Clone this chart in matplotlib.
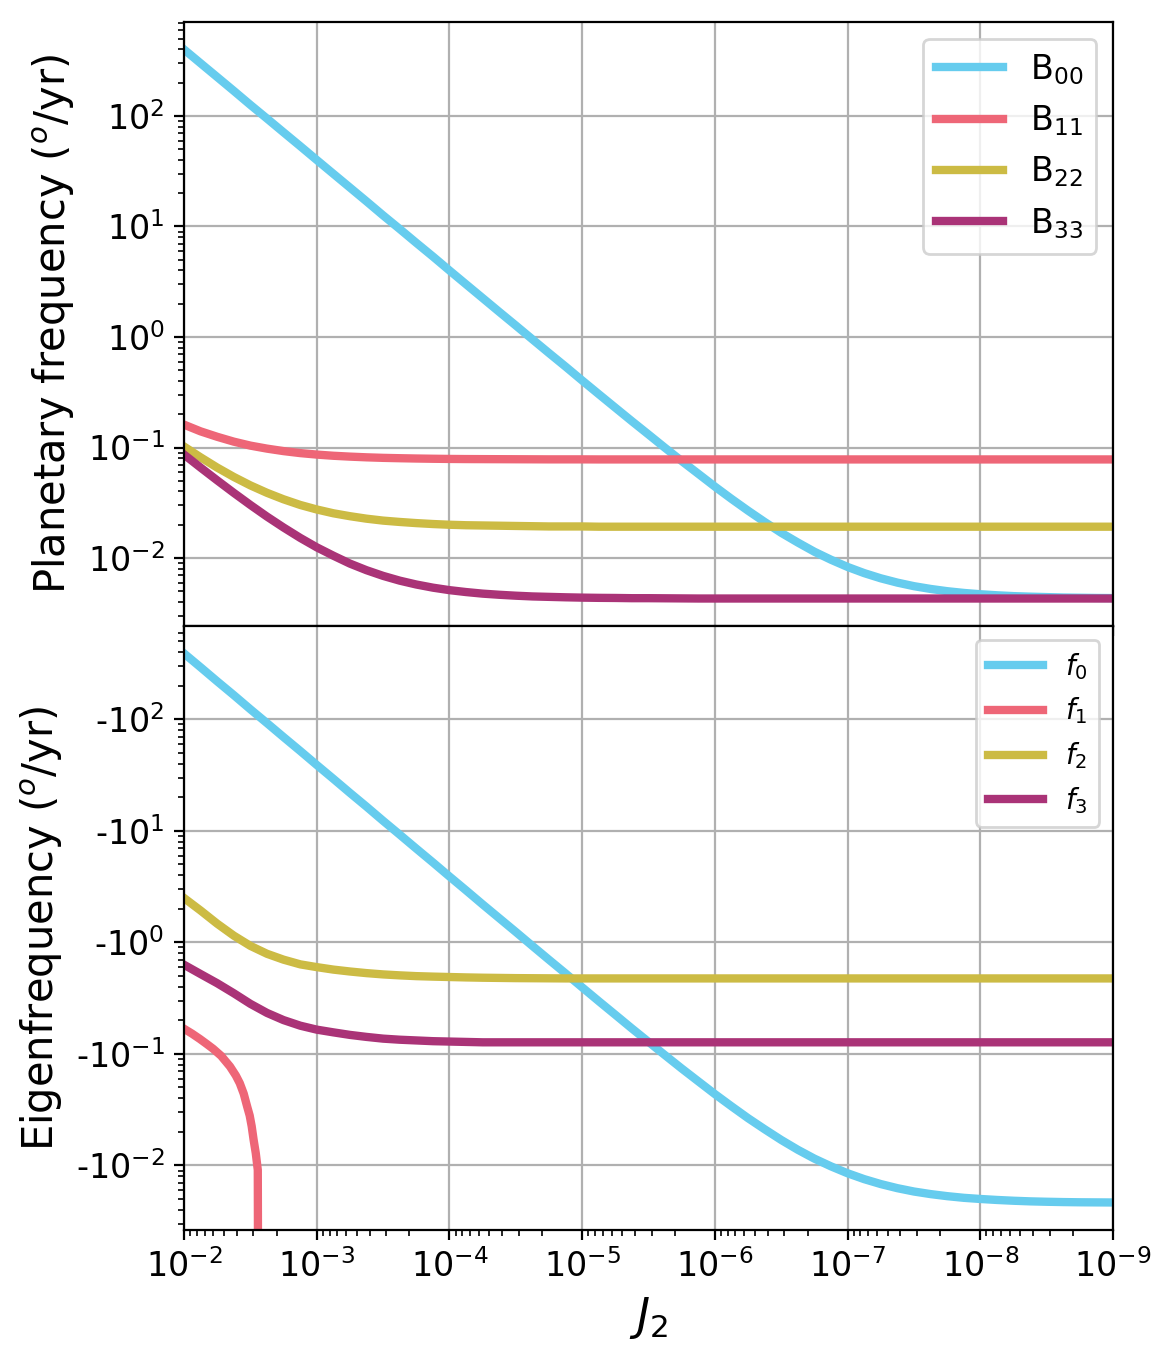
import matplotlib

matplotlib.use("Agg")
import matplotlib.pyplot as plt
from matplotlib.ticker import FuncFormatter, NullFormatter
import numpy as np

# J2 sample points (eighth-decade steps from 1e-2 down to 1e-9)
J2 = [1e-2, 7.50e-3, 5.62e-3, 4.22e-3, 3.16e-3, 2.37e-3, 1.78e-3, 1.33e-3,
      1e-3, 7.50e-4, 5.62e-4, 4.22e-4, 3.16e-4, 2.37e-4, 1.78e-4, 1.33e-4,
      1e-4, 7.50e-5, 5.62e-5, 4.22e-5, 3.16e-5, 2.37e-5, 1.78e-5, 1.33e-5,
      1e-5, 7.50e-6, 5.62e-6, 4.22e-6, 3.16e-6, 2.37e-6, 1.78e-6, 1.33e-6,
      1e-6, 7.50e-7, 5.62e-7, 4.22e-7, 3.16e-7, 2.37e-7, 1.78e-7, 1.33e-7,
      1e-7, 7.50e-8, 5.62e-8, 4.22e-8, 3.16e-8, 2.37e-8, 1.78e-8, 1.33e-8,
      1e-8, 7.50e-9, 5.62e-9, 4.22e-9, 3.16e-9, 2.37e-9, 1.78e-9, 1.33e-9,
      1e-9]

# planetary frequencies (deg/yr)
B00 = [400, 300, 225, 169, 126, 94.8, 71.2, 53.3,
       40, 30, 22.5, 16.9, 12.6, 9.49, 7.12, 5.34,
       4.0, 3.0, 2.25, 1.69, 1.27, 0.952, 0.716, 0.538,
       0.404, 0.304, 0.229, 0.173, 0.131, 0.0991, 0.0755, 0.0577,
       0.0443, 0.0343, 0.0268, 0.0212, 0.0169, 0.0138, 0.0114, 0.00963,
       0.0083, 0.0073, 0.00655, 0.00599, 0.00556, 0.00525, 0.00501, 0.00483,
       0.0047, 0.0046, 0.00452, 0.00447, 0.00443, 0.00439, 0.00437, 0.00435,
       0.00434]
B11 = [0.161, 0.140, 0.125, 0.113, 0.104, 0.0977, 0.0928, 0.0890,
       0.0863, 0.0842, 0.0827, 0.0815, 0.0806, 0.0800, 0.0795, 0.0791,
       0.0788, 0.0786, 0.0785, 0.0784, 0.0783, 0.0782, 0.0781, 0.0781,
       0.0781] + [0.0780] * 32
B22 = [0.102, 0.0815, 0.0658, 0.0542, 0.0454, 0.0389, 0.0340, 0.0302,
       0.0275, 0.0254, 0.0239, 0.0227, 0.0218, 0.0212, 0.0207, 0.0203,
       0.0200, 0.0198, 0.0197, 0.0196, 0.0195, 0.0194, 0.0193, 0.0193,
       0.0193] + [0.0192] * 32
B33 = [0.0863, 0.0658, 0.0504, 0.0389, 0.0302, 0.0237, 0.0189, 0.0152,
       0.0125, 0.0105, 0.0089, 0.00776, 0.00689, 0.00624, 0.00576, 0.00539,
       0.00512, 0.00492, 0.00476, 0.00465, 0.00456, 0.00449, 0.00445, 0.00441,
       0.00438, 0.00436, 0.00435, 0.00433, 0.00433, 0.00432, 0.00431] + [0.0043] * 26

# eigenfrequencies, magnitude of the (negative) values
f0 = [390, 293, 219, 165, 123, 92.5, 69.4, 52,
      39, 29.3, 21.9, 16.5, 12.3, 9.25, 6.94, 5.2,
      3.9, 2.93, 2.19, 1.65, 1.24, 0.929, 0.699, 0.525,
      0.395, 0.297, 0.224, 0.169, 0.128, 0.0971, 0.074, 0.0566,
      0.0436, 0.0339, 0.0265, 0.0211, 0.0169, 0.0138, 0.0115, 0.00979,
      0.0085, 0.00753, 0.0068, 0.00625, 0.00583, 0.00553, 0.0053, 0.00512,
      0.005, 0.0049, 0.00482, 0.00476, 0.00472, 0.00469, 0.00467, 0.00466,
      0.00465]
f2 = [2.5, 1.93, 1.47, 1.15, 0.93, 0.79, 0.70, 0.635,
      0.60, 0.57, 0.548, 0.53, 0.516, 0.506, 0.498, 0.493,
      0.489, 0.485, 0.482, 0.48, 0.478, 0.477, 0.476] + [0.475] * 34
f3 = [0.63, 0.52, 0.43, 0.35, 0.281, 0.233, 0.201, 0.179,
      0.165, 0.156, 0.148, 0.142, 0.137, 0.134, 0.132, 0.130,
      0.129, 0.128] + [0.127] * 39
# f1 crosses zero near J2 ~ 2.7e-3
J2_f1 = [1e-2, 8.71e-3, 7.59e-3, 6.76e-3, 6.03e-3, 5.25e-3, 4.5e-3, 4.07e-3, 3.8e-3,
         3.55e-3, 3.35e-3, 3.2e-3, 3.09e-3, 2.99e-3, 2.88e-3, 2.78e-3, 2.74e-3]
f1 = [0.168, 0.152, 0.136, 0.123, 0.111, 0.096, 0.077, 0.064, 0.0546,
      0.044, 0.034, 0.028, 0.0224, 0.017, 0.0129, 0.0091, 1e-5]

colors = ["#66CCEE", "#EE6677", "#CCBB44", "#AA3377"]

fig, (ax1, ax2) = plt.subplots(2, 1, sharex=True, figsize=(5.86, 6.79), dpi=200)
fig.subplots_adjust(left=0.157, right=0.9497, top=0.9838, bottom=0.0943, hspace=0)

for vals, c, lab in zip([B00, B11, B22, B33], colors,
                        ["B$_{00}$", "B$_{11}$", "B$_{22}$", "B$_{33}$"]):
    ax1.plot(J2, vals, color=c, lw=3, label=lab)
ax1.set_xscale("log")
ax1.set_yscale("log")
ax1.set_ylabel("Planetary frequency ($^o$/yr)", fontsize=15)
ax1.grid(True)
ax1.legend(loc="upper right", fontsize=12)
ax1.tick_params(labelsize=12)

ax2.plot(J2, f0, color=colors[0], lw=3, label="$f_0$")
ax2.plot(J2_f1, f1, color=colors[1], lw=3, label="$f_1$")
ax2.plot(J2, f2, color=colors[2], lw=3, label="$f_2$")
ax2.plot(J2, f3, color=colors[3], lw=3, label="$f_3$")
ax2.set_yscale("log")
lo, hi = np.log10(min(f0)), np.log10(max(f0))
pad = 0.05 * (hi - lo)
ax2.set_ylim(10 ** (lo - pad), 10 ** (hi + pad))
ax2.yaxis.set_major_formatter(
    FuncFormatter(lambda v, p: "-$\\mathdefault{10^{%d}}$" % round(np.log10(v))))
ax2.yaxis.set_minor_formatter(NullFormatter())
ax2.set_ylabel("Eigenfrequency ($^o$/yr)", fontsize=15)
ax2.set_xlabel("$J_2$", fontsize=16)
ax2.grid(True)
ax2.legend(loc="upper right", fontsize=10)
ax2.tick_params(labelsize=12)

ax2.set_xlim(1e-2, 1e-9)

plt.savefig("out.png", dpi=200)
plt.close(fig)
